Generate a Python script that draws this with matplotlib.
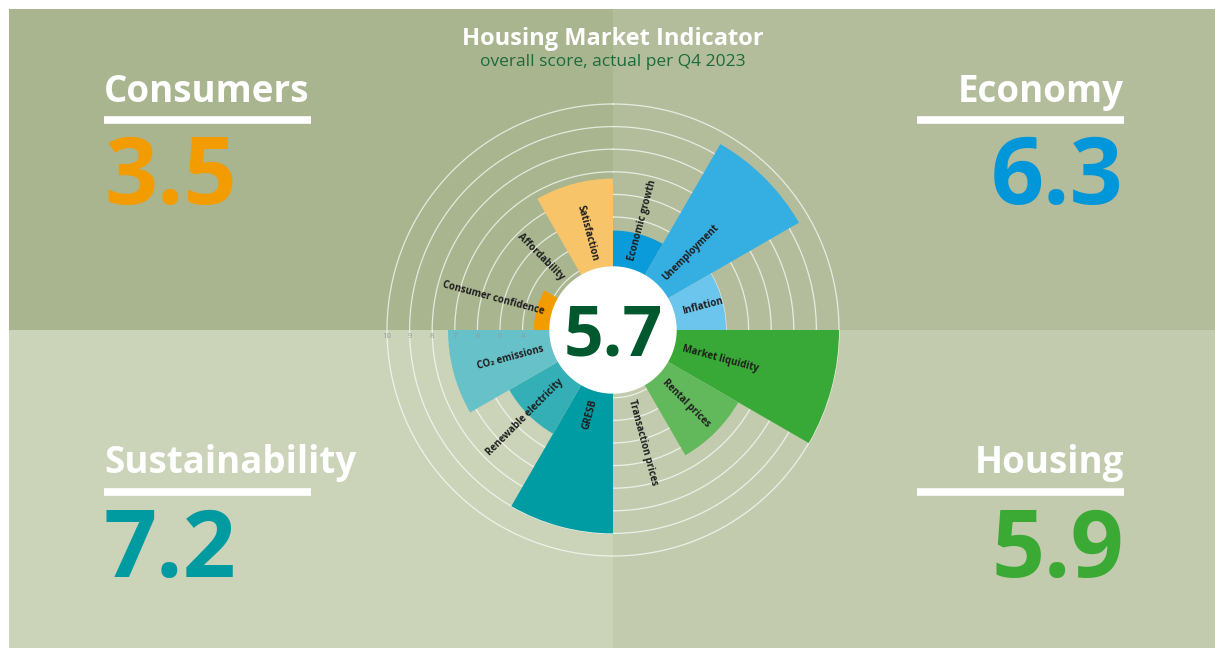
import numpy as np
import matplotlib.pyplot as plt
from matplotlib.patches import Rectangle
from matplotlib import transforms

plt.rcParams['font.family'] = ['Open Sans', 'DejaVu Sans']

# indicator scores, clockwise from 12 o'clock
indicators = ['Economic growth', 'Unemployment', 'Inflation',
              'Market liquidity', 'Rental prices', 'Transaction prices',
              'GRESB', 'Renewable electricity', 'CO₂ emissions',
              'Consumer confidence', 'Affordability', 'Satisfaction']
scores = [4.4, 9.5, 5.0, 10.0, 6.4, 1.3, 9.0, 5.3, 7.3, 3.5, 0.3, 6.7]
bar_colors = ['#0a9bdb', '#35aee2', '#6cc5ec',
              '#38a936', '#62b95c', '#8ccb86',
              '#009ca3', '#33afb5', '#66c2c8',
              '#f39c00', '#f5b33f', '#f7c46a']

groups = ['Consumers', 'Economy', 'Sustainability', 'Housing']
group_scores = [3.5, 6.3, 7.2, 5.9]
group_colors = ['#f39c00', '#0096da', '#009aa1', '#3aaa35']

overall = 5.7
ring_values = [3, 4, 5, 6, 7, 8, 9, 10]
tick_values = [10, 9, 8, 7, 6, 5, 4]

W, H = 1215, 648
cx, cy = 613, 330
px_per_unit = 22.6
rmax = 11

fig = plt.figure(figsize=(W / 100, H / 100), dpi=100)
fig.patch.set_facecolor('white')

# background with the four quadrants
bg = fig.add_axes([0, 0, 1, 1])
bg.set_xlim(0, W)
bg.set_ylim(H, 0)
bg.axis('off')
quads = [((9, 9), cx - 9, cy - 9, '#a9b58f'),
         ((cx, 9), W - cx, cy - 9, '#b3bd9b'),
         ((9, cy), cx - 9, H - cy, '#cbd3b8'),
         ((cx, cy), W - cx, H - cy, '#c3cbaf')]
for xy, w, h, c in quads:
    bg.add_patch(Rectangle(xy, w, h, facecolor=c, edgecolor='none'))

bg.text(cx, 45, 'Housing Market Indicator', ha='center', va='baseline',
        color='white', fontsize=17, fontweight='bold')
bg.text(cx, 66, 'overall score, actual per Q4 2023', ha='center',
        va='baseline', color='#1b6b3c', fontsize=12.5)

# group headings: (x anchor, align, heading baseline, line y, number baseline)
layout = {'Consumers': (104, 'left', 102, 120, 204),
          'Economy': (1124, 'right', 102, 120, 204),
          'Sustainability': (104, 'left', 473, 492, 577),
          'Housing': (1124, 'right', 473, 492, 577)}
for name, val, col in zip(groups, group_scores, group_colors):
    x, ha, yb, yl, yn = layout[name]
    bg.text(x, yb, name, ha=ha, va='baseline', color='white',
            fontsize=26.5, fontweight='bold')
    x0 = x if ha == 'left' else x - 207
    bg.plot([x0, x0 + 207], [yl, yl], color='white', lw=5.5,
            solid_capstyle='butt')
    bg.text(x, yn, f'{val:.1f}', ha=ha, va='baseline', color=col,
            fontsize=67, fontweight='bold')

# polar chart
rad = rmax * px_per_unit
ax = fig.add_axes([(cx - rad) / W, (H - cy - rad) / H, 2 * rad / W, 2 * rad / H],
                  projection='polar')
ax.set_facecolor('none')
ax.set_theta_zero_location('N')
ax.set_theta_direction(-1)
ax.set_ylim(0, rmax)
ax.grid(False)
ax.set_xticks([])
ax.set_yticks([])
ax.spines['polar'].set_visible(False)

full = np.linspace(0, 2 * np.pi, 400)
for rv in ring_values:
    ax.plot(full, np.full_like(full, rv), color='white', lw=0.9,
            alpha=0.7, zorder=1)

n = len(indicators)
theta = np.deg2rad(np.arange(n) * 360 / n)
width = np.deg2rad(360 / n)
ax.bar(theta, scores, width=width, align='edge', color=bar_colors,
       edgecolor='none', zorder=2)

# inner white disc
hole = 63 / px_per_unit
ax.fill(full, np.full_like(full, hole), color='white', zorder=4)

label_r = 72 / px_per_unit
for i, name in enumerate(indicators):
    mid = (i + 0.5) * 360 / n
    if mid < 180:
        rot, ha = 90 - mid, 'left'
    else:
        rot, ha = 270 - mid, 'right'
    ax.text(np.deg2rad(mid), label_r, name, rotation=rot, ha=ha,
            va='center', rotation_mode='anchor', fontsize=7,
            fontweight='bold', color='#1e1e1e', zorder=5)

for tv in tick_values:
    ax.annotate(str(tv), xy=(np.deg2rad(270), tv), xytext=(0, -2),
                textcoords='offset points', ha='center', va='top',
                fontsize=5.5, color='#8f9a9a', zorder=3)

tr = transforms.offset_copy(ax.transData, fig=fig, x=0, y=-25, units='dots')
ax.text(0, 0, f'{overall:.1f}', transform=tr, ha='center', va='baseline',
        fontsize=50, fontweight='bold', color='#00582f', zorder=6)

fig.savefig('out.png', dpi=100)
